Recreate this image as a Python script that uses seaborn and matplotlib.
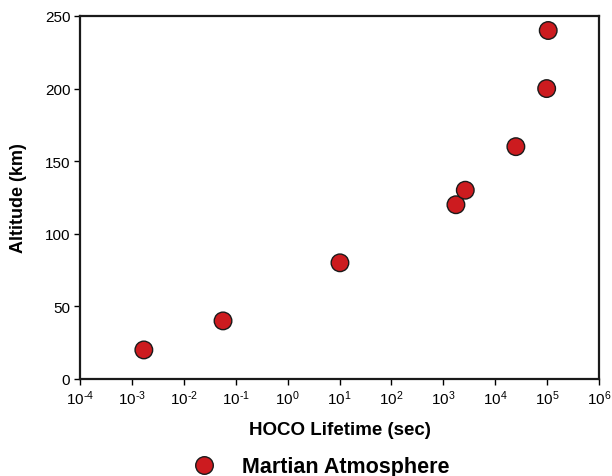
import numpy as np
import pandas as pd
import matplotlib
matplotlib.use("Agg")
import matplotlib.pyplot as plt
import seaborn as sns
from matplotlib.ticker import LogLocator, FuncFormatter, NullLocator

# HOCO lifetime versus altitude in the Martian atmosphere
lifetime_sec = [1.7e-3, 5.7e-2, 1.02e1, 1.75e3, 2.65e3, 2.5e4, 9.8e4, 1.05e5]
altitude_km = [20, 40, 80, 120, 130, 160, 200, 240]
series_name = "Martian Atmosphere"

df = pd.DataFrame({"lifetime": lifetime_sec, "altitude": altitude_km,
                   "series": [series_name] * len(altitude_km)})

sns.set_theme(style="ticks")
plt.rcParams["font.family"] = ["Liberation Sans", "DejaVu Sans"]
plt.rcParams["mathtext.fontset"] = "custom"
plt.rcParams["mathtext.rm"] = "Liberation Sans"
plt.rcParams["mathtext.it"] = "Liberation Sans"
plt.rcParams["mathtext.default"] = "regular"
plt.rcParams["axes.unicode_minus"] = False
plt.rcParams["text.color"] = "black"
plt.rcParams["axes.labelcolor"] = "black"


def decade_label(v, pos):
    e = int(round(np.log10(v)))
    # plain hyphen for negative exponents
    exp = ("\u2010%d" % -e) if e < 0 else "%d" % e
    return "$10^{%s}$" % exp


fig = plt.figure(figsize=(6.12, 4.77), dpi=100)
ax = fig.add_axes([0.1307, 0.2034, 0.8481, 0.761])

sns.scatterplot(data=df, x="lifetime", y="altitude", hue="series",
                palette=["#cc1b1f"], s=160, edgecolor="#1a1a1a", linewidth=1.0,
                ax=ax, legend=True, zorder=3)

ax.set_xscale("log")
ax.set_xlim(1e-4, 1e6)
ax.set_ylim(0, 250)
ax.xaxis.set_major_locator(LogLocator(base=10, numticks=20))
ax.xaxis.set_minor_locator(NullLocator())
ax.xaxis.set_major_formatter(FuncFormatter(decade_label))
ax.set_yticks([0, 50, 100, 150, 200, 250])

for s in ax.spines.values():
    s.set_linewidth(1.6)
    s.set_color("#1a1a1a")
ax.tick_params(axis="both", direction="out", length=4, width=1.0,
               labelsize=11, colors="black", pad=3)

ax.set_xlabel("HOCO Lifetime (sec)", fontsize=13.5, fontweight="bold", labelpad=10)
ax.set_ylabel("Altitude (km)", fontsize=13, fontweight="bold", labelpad=13)

handles, labels = ax.get_legend_handles_labels()
ax.get_legend().remove()
leg = fig.legend(handles, labels, loc="center", bbox_to_anchor=(0.517, 0.019),
                 frameon=False, prop={"weight": "bold", "size": 15.5},
                 handletextpad=0.77, markerscale=1.0)

fig.savefig("out.png", dpi=100)
